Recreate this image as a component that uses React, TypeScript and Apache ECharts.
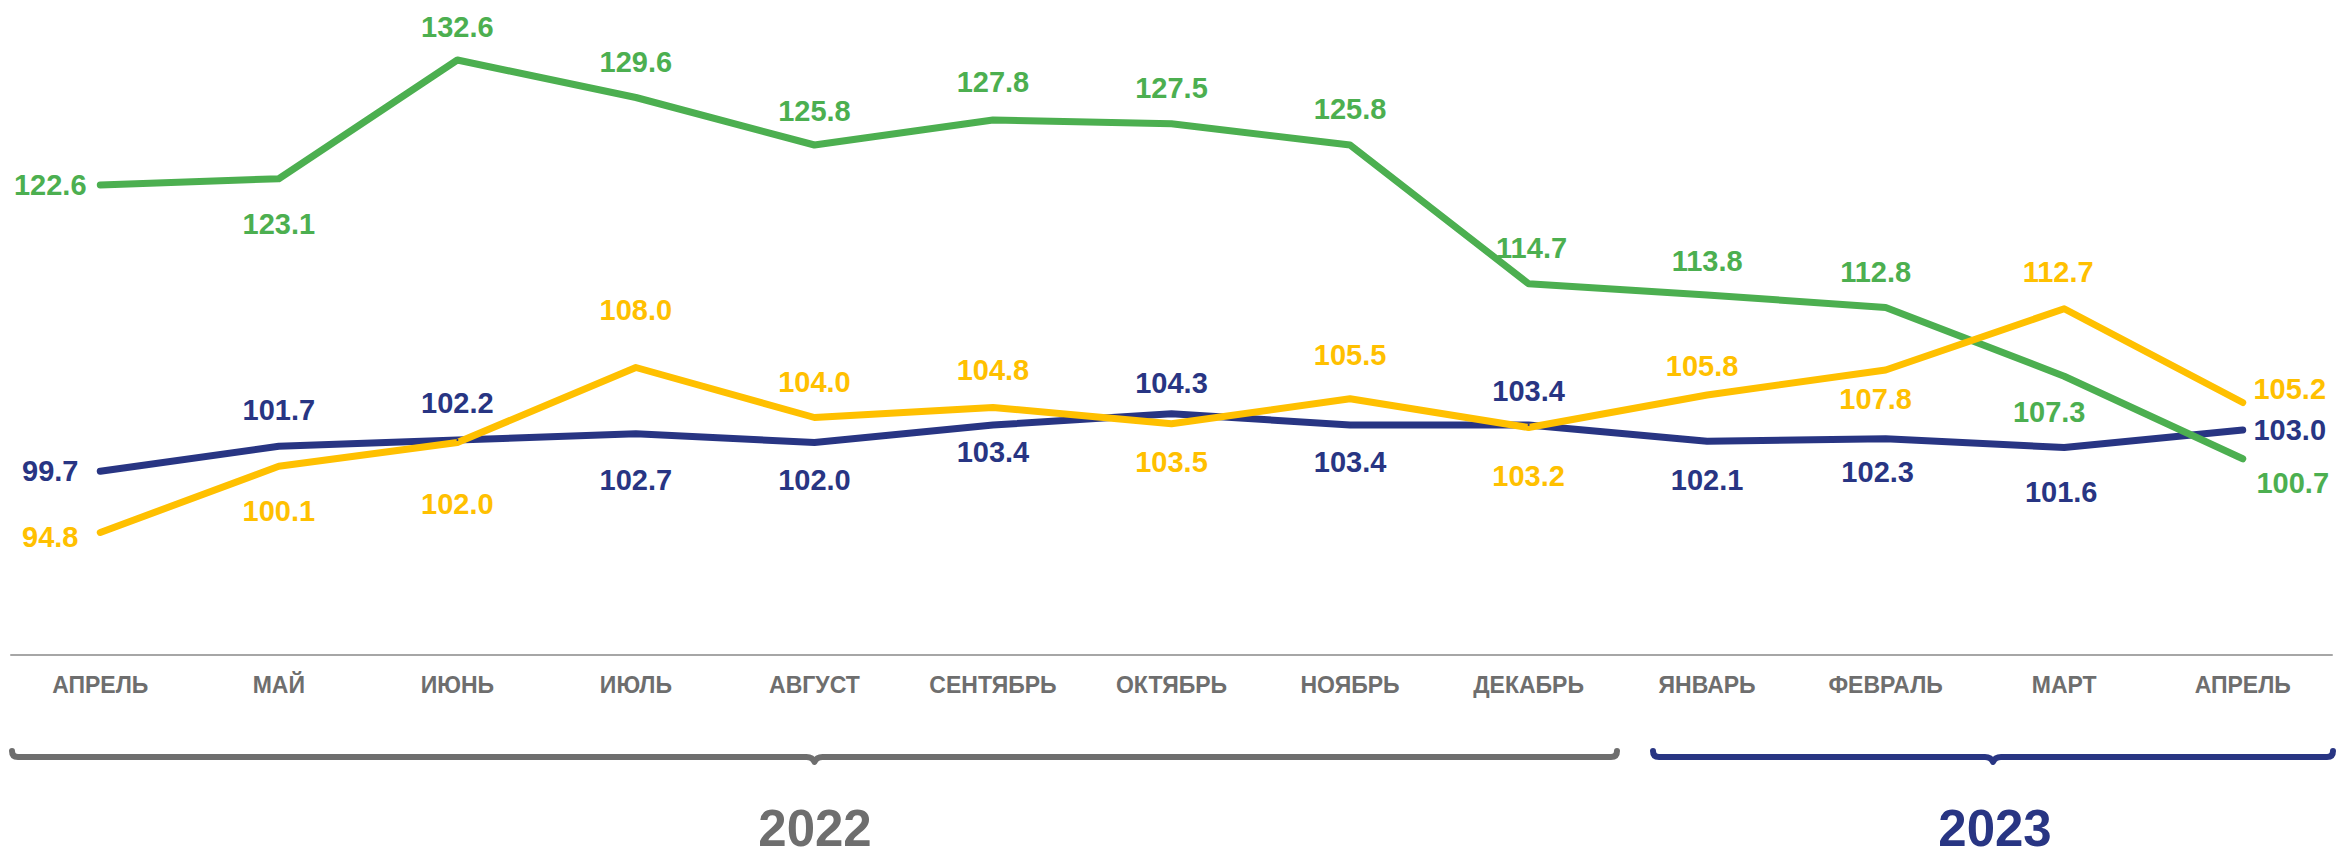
import React, { useEffect, useRef } from "react";
import * as echarts from "echarts";

const months = [
  "АПРЕЛЬ", "МАЙ", "ИЮНЬ", "ИЮЛЬ", "АВГУСТ", "СЕНТЯБРЬ", "ОКТЯБРЬ",
  "НОЯБРЬ", "ДЕКАБРЬ", "ЯНВАРЬ", "ФЕВРАЛЬ", "МАРТ", "АПРЕЛЬ",
];
const blueValues = [99.7, 101.7, 102.2, 102.7, 102.0, 103.4, 104.3, 103.4, 103.4, 102.1, 102.3, 101.6, 103.0];
const greenValues = [122.6, 123.1, 132.6, 129.6, 125.8, 127.8, 127.5, 125.8, 114.7, 113.8, 112.8, 107.3, 100.7];
const yellowValues = [94.8, 100.1, 102.0, 108.0, 104.0, 104.8, 103.5, 105.5, 103.2, 105.8, 107.8, 112.7, 105.2];
const years = ["2022", "2023"];

// label placement (styling): [dx, dy] offsets of label centre from the point
const blueLabelOffsets = [[-50, 0], [0, -36], [0, -37], [0, 46], [0, 37], [0, 27], [0, -31], [0, 37], [0, -34], [0, 39], [-8, 33], [-3, 44], [47, 0]];
const greenLabelOffsets = [[-50, 0], [0, 45], [0, -33], [0, -36], [0, -34], [0, -38], [0, -36], [0, -36], [3, -36], [0, -34], [-10, -36], [-15, 36], [50, 24]];
const yellowLabelOffsets = [[-50, 4], [0, 45], [0, 61], [0, -58], [0, -36], [0, -38], [0, 38], [0, -44], [0, 48], [-5, -29], [-10, 29], [-6, -37], [47, -14]];

const BLUE = "#283583";
const GREEN = "#4CAF50";
const YELLOW = "#FFC000";
const GRAY = "#6E6E6E";
const FONT = "'Liberation Sans', Arial, sans-serif";

function braceShape(x1: number, x2: number, y: number) {
  const mid = (x1 + x2) / 2;
  const r = 6;
  const d =
    `M${x1} ${y - r} Q${x1} ${y} ${x1 + r} ${y} L${mid - 8} ${y} ` +
    `Q${mid - 2} ${y} ${mid} ${y + 5} Q${mid + 2} ${y} ${mid + 8} ${y} ` +
    `L${x2 - r} ${y} Q${x2} ${y} ${x2} ${y - r}`;
  return d;
}

function makeSeries(name: string, values: number[], offsets: number[][], color: string) {
  return {
    name,
    type: "line",
    data: values.map((v, i) => ({
      value: v,
      label: { offset: offsets[i] },
    })),
    symbol: "circle",
    symbolSize: 2,
    showSymbol: true,
    itemStyle: { color },
    lineStyle: { color, width: 7, cap: "round", join: "round" },
    label: {
      show: true,
      position: "inside",
      color,
      fontFamily: FONT,
      fontWeight: "bold",
      fontSize: 29,
      formatter: (p: any) => Number(p.value).toFixed(1),
    },
    emphasis: { disabled: true },
  };
}

export default function App() {
  const ref = useRef<HTMLDivElement>(null);
  useEffect(() => {
    if (!ref.current) return;
    echarts.graphic.registerShape("brace2022", echarts.graphic.extendPath(braceShape(12, 1617, 757), {}));
    echarts.graphic.registerShape("brace2023", echarts.graphic.extendPath(braceShape(1653, 2333, 757), {}));
    const chart = echarts.init(ref.current, null, { renderer: "svg" });
    chart.setOption({
      animation: false,
      backgroundColor: "#ffffff",
      grid: { left: 11, right: 4, top: 5, height: 650, containLabel: false },
      xAxis: {
        type: "category",
        data: months,
        boundaryGap: true,
        axisLine: { show: true, lineStyle: { color: "#A6A6A6", width: 2 } },
        axisTick: { show: false },
        axisLabel: {
          color: GRAY,
          fontFamily: FONT,
          fontWeight: "bold",
          fontSize: 23,
          margin: 18,
          interval: 0,
        },
      },
      yAxis: {
        type: "value",
        min: 85,
        max: 137,
        show: false,
        splitLine: { show: false },
      },
      series: [
        makeSeries("blue", blueValues, blueLabelOffsets, BLUE),
        makeSeries("green", greenValues, greenLabelOffsets, GREEN),
        makeSeries("yellow", yellowValues, yellowLabelOffsets, YELLOW),
      ],
      graphic: [
        {
          type: "brace2022",
          style: { fill: "none", stroke: GRAY, lineWidth: 6, lineCap: "round", lineJoin: "round" },
        },
        {
          type: "brace2023",
          style: { fill: "none", stroke: BLUE, lineWidth: 6, lineCap: "round", lineJoin: "round" },
        },
        {
          type: "text",
          x: 815,
          y: 828,
          style: {
            text: years[0],
            fill: GRAY,
            font: `bold 51px ${FONT}`,
            align: "center",
            verticalAlign: "middle",
          },
        },
        {
          type: "text",
          x: 1995,
          y: 828,
          style: {
            text: years[1],
            fill: BLUE,
            font: `bold 51px ${FONT}`,
            align: "center",
            verticalAlign: "middle",
          },
        },
      ],
    });
    return () => chart.dispose();
  }, []);
  return (
    <div
      ref={ref}
      style={{ position: "fixed", left: 0, top: 0, width: 2336, height: 855, background: "#fff" }}
    />
  );
}
